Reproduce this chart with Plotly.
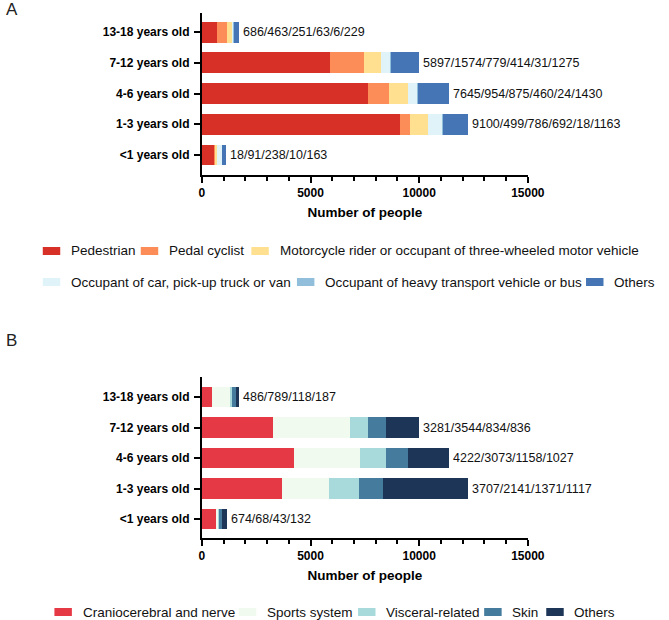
import plotly.graph_objects as go

# ---------------- data ----------------
age_groups = ["<1 years old", "1-3 years old", "4-6 years old", "7-12 years old", "13-18 years old"]

# Panel A: road user type
a_series = ["Pedestrian", "Pedal cyclist",
            "Motorcycle rider or occupant of three-wheeled motor vehicle",
            "Occupant of car, pick-up truck or van",
            "Occupant of heavy transport vehicle or bus", "Others"]
a_pedestrian = [590, 9100, 7645, 5897, 686]
a_pedal = [18, 499, 954, 1574, 463]
a_motorcycle = [91, 786, 875, 779, 251]
a_car = [238, 692, 460, 414, 63]
a_heavy = [10, 18, 24, 31, 6]
a_others = [163, 1163, 1430, 1275, 229]
a_labels = ["18/91/238/10/163", "9100/499/786/692/18/1163", "7645/954/875/460/24/1430",
            "5897/1574/779/414/31/1275", "686/463/251/63/6/229"]
a_colors = ["#d73027", "#fc8d59", "#fee090", "#e0f3f8", "#91bfdb", "#4575b4"]

# Panel B: injury type
b_series = ["Craniocerebral and nerve", "Sports system", "Visceral-related", "Skin", "Others"]
b_cranio = [674, 3707, 4222, 3281, 486]
b_sports = [68, 2141, 3073, 3544, 789]
b_visceral = [43, 1371, 1158, 834, 118]
b_skin = [132, 1117, 1027, 836, 187]
b_others = [230, 3922, 1908, 1475, 118]
b_labels = ["674/68/43/132", "3707/2141/1371/1117", "4222/3073/1158/1027",
            "3281/3544/834/836", "486/789/118/187"]
b_colors = ["#e63946", "#f1faee", "#a8dadc", "#457b9d", "#1d3557"]

x_ticks = [0, 5000, 10000, 15000]

# ---------------- figure ----------------
W, H = 669, 620
def px(x):
    return x / W
def py(y):
    return 1 - y / H

FONT = "Liberation Sans, Arial, sans-serif"
fig = go.Figure()

a_values = [a_pedestrian, a_pedal, a_motorcycle, a_car, a_heavy, a_others]
for name, vals, col in zip(a_series, a_values, a_colors):
    fig.add_trace(go.Bar(y=age_groups, x=vals, name=name, orientation="h",
                         marker=dict(color=col, line=dict(width=0)),
                         xaxis="x", yaxis="y", showlegend=False, width=0.68))

b_values = [b_cranio, b_sports, b_visceral, b_skin, b_others]
for name, vals, col in zip(b_series, b_values, b_colors):
    fig.add_trace(go.Bar(y=age_groups, x=vals, name=name, orientation="h",
                         marker=dict(color=col, line=dict(width=0)),
                         xaxis="x2", yaxis="y2", showlegend=False, width=0.68))

annotations = []
a_totals = [sum(v) for v in zip(*a_values)]
b_totals = [sum(v) for v in zip(*b_values)]
for cat, tot, lab in zip(age_groups, a_totals, a_labels):
    annotations.append(dict(x=tot, y=cat, xref="x", yref="y", text=lab, showarrow=False,
                            xanchor="left", yanchor="middle", xshift=2,
                            font=dict(family=FONT, size=12.5, color="#111")))
for cat, tot, lab in zip(age_groups, b_totals, b_labels):
    annotations.append(dict(x=tot, y=cat, xref="x2", yref="y2", text=lab, showarrow=False,
                            xanchor="left", yanchor="middle", xshift=2,
                            font=dict(family=FONT, size=12.5, color="#111")))

# panel letters
annotations.append(dict(x=px(1), y=py(9), xref="paper", yref="paper", text="A", showarrow=False,
                        xanchor="left", yanchor="middle", font=dict(family=FONT, size=17, color="#222")))
annotations.append(dict(x=px(1), y=py(340), xref="paper", yref="paper", text="B", showarrow=False,
                        xanchor="left", yanchor="middle", font=dict(family=FONT, size=17, color="#222")))

# manual legends (layout positions)
shapes = []
a_leg_pos = [(41, 251), (142, 251), (256, 251), (41, 282), (303, 282), (601, 282)]
b_leg_pos = [(53, 612), (243, 612), (366, 612), (496, 612), (560, 612)]
for (lx, ly), name, col in list(zip(a_leg_pos, a_series, a_colors)) + list(zip(b_leg_pos, b_series, b_colors)):
    shapes.append(dict(type="rect", xref="paper", yref="paper",
                       x0=px(lx), x1=px(lx + 18), y0=py(ly + 4), y1=py(ly - 4),
                       fillcolor=col, line=dict(width=0)))
    annotations.append(dict(x=px(lx + 27), y=py(ly), xref="paper", yref="paper", text=name,
                            showarrow=False, xanchor="left", yanchor="middle",
                            font=dict(family=FONT, size=13.5, color="#111")))

xaxis_common = dict(range=[0, 15000], tickvals=x_ticks, ticktext=[str(t) for t in x_ticks],
                    showline=True, linecolor="black", linewidth=2, ticks="outside",
                    ticklen=6, tickwidth=2, tickcolor="black", showgrid=False, zeroline=False,
                    tickfont=dict(family=FONT, size=12, color="black", weight="bold"),
                    minor=dict(dtick=1000, ticks="outside", ticklen=4, tickwidth=2, tickcolor="black",
                               showgrid=False),
                    title=dict(text="Number of people", standoff=8,
                               font=dict(family=FONT, size=13.5, color="black", weight="bold")),
                    fixedrange=True)
yaxis_common = dict(type="category", categoryorder="array", categoryarray=age_groups,
                    showline=True, linecolor="black", linewidth=2, ticks="outside",
                    ticklen=6, tickwidth=2, tickcolor="black", showgrid=False, zeroline=False,
                    tickfont=dict(family=FONT, size=12, color="black", weight="bold"),
                    ticklabelstandoff=2, fixedrange=True)

fig.update_layout(
    width=W, height=H,
    autosize=False,
    margin=dict(l=0, r=0, t=0, b=0),
    paper_bgcolor="white", plot_bgcolor="white",
    barmode="stack",
    showlegend=False,
    xaxis=dict(domain=[px(205), px(541)], anchor="y", **xaxis_common),
    yaxis=dict(domain=[py(175), py(13)], anchor="x", range=[-0.65, 4.62], **yaxis_common),
    xaxis2=dict(domain=[px(205), px(541)], anchor="y2", **xaxis_common),
    yaxis2=dict(domain=[py(538), py(377)], anchor="x2", range=[-0.62, 4.66], **yaxis_common),
    annotations=annotations,
    shapes=shapes,
    font=dict(family=FONT),
)

fig.write_html(
    "out.html",
    config={"responsive": False, "displayModeBar": False},
    post_script="document.documentElement.style.overflow='hidden';"
                "document.body.style.margin='0';document.body.style.overflow='hidden';",
)
